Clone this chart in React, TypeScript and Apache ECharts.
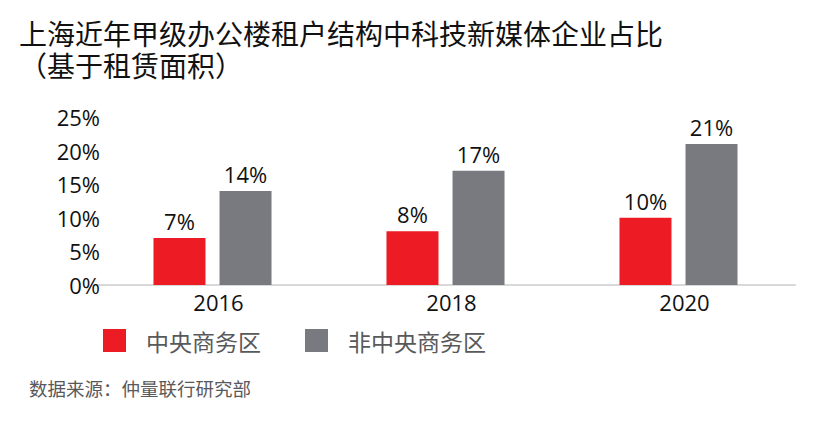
import React, { useEffect, useRef } from "react";
import * as echarts from "echarts";

const categories = ["2016", "2018", "2020"];
const cbdValues = [7, 8, 10];
const nonCbdValues = [14, 17, 21];
const seriesNames = ["中央商务区", "非中央商务区"];
const titleLines = ["上海近年甲级办公楼租户结构中科技新媒体企业占比", "（基于租赁面积）"];
const sourceText = "数据来源：仲量联行研究部";

const NUM_FONT = '"Open Sans", "Noto Sans", sans-serif';
const CJK_FONT = '"Noto Sans CJK SC", sans-serif';

export default function App() {
  const ref = useRef<HTMLDivElement>(null);
  useEffect(() => {
    document.body.style.margin = "0";
    if (!ref.current) return;
    const chart = echarts.init(ref.current, undefined, { renderer: "svg" });
    const titleStyle = {
      fontFamily: CJK_FONT,
      fontSize: 28,
      fontWeight: "normal",
      color: "#111111",
      lineHeight: 30,
    };
    chart.setOption({
      animation: false,
      backgroundColor: "#ffffff",
      title: [
        { text: titleLines[0], left: 19, top: 18, padding: 0, textStyle: titleStyle },
        { text: titleLines[1], left: 19, top: 50, padding: 0, textStyle: titleStyle },
      ],
      legend: {
        left: 103,
        top: 329,
        padding: 0,
        itemWidth: 23,
        itemHeight: 23,
        itemGap: 44,
        icon: "rect",
        data: seriesNames,
        textStyle: {
          fontFamily: CJK_FONT,
          fontSize: 23,
          color: "#58595B",
          padding: [0, 0, 0, 15],
        },
      },
      grid: {
        left: 96,
        right: 41,
        top: 117,
        height: 168,
      },
      xAxis: {
        type: "category",
        data: categories,
        axisLine: { show: true, lineStyle: { color: "#d9d9d9", width: 2 } },
        axisTick: { show: false },
        axisLabel: {
          fontFamily: NUM_FONT,
          fontSize: 22,
          color: "#111111",
          margin: 6,
          padding: [0, 0, 0, 12],
        },
      },
      yAxis: {
        type: "value",
        min: 0,
        max: 25,
        interval: 5,
        axisLine: { show: false },
        axisTick: { show: false },
        splitLine: { show: false },
        axisLabel: {
          formatter: "{value}%",
          fontFamily: NUM_FONT,
          fontSize: 22,
          color: "#111111",
          margin: -4,
        },
      },
      series: [
        {
          name: seriesNames[0],
          type: "bar",
          data: cbdValues,
          barWidth: 52,
          barGap: "27%",
          itemStyle: { color: "#ED1C24" },
          label: {
            show: true,
            position: "top",
            distance: 6,
            formatter: "{c}%",
            fontFamily: NUM_FONT,
            fontSize: 22,
            color: "#111111",
          },
        },
        {
          name: seriesNames[1],
          type: "bar",
          data: nonCbdValues,
          barWidth: 52,
          barGap: "27%",
          itemStyle: { color: "#797A80" },
          label: {
            show: true,
            position: "top",
            distance: 6,
            formatter: "{c}%",
            fontFamily: NUM_FONT,
            fontSize: 22,
            color: "#111111",
          },
        },
      ],
      graphic: [
        {
          type: "text",
          left: 29,
          top: 379,
          style: {
            text: sourceText,
            fontFamily: CJK_FONT,
            fontSize: 18.5,
            fill: "#58595B",
          },
        },
      ],
    });
    return () => chart.dispose();
  }, []);
  return <div ref={ref} style={{ width: 836, height: 426 }} />;
}
